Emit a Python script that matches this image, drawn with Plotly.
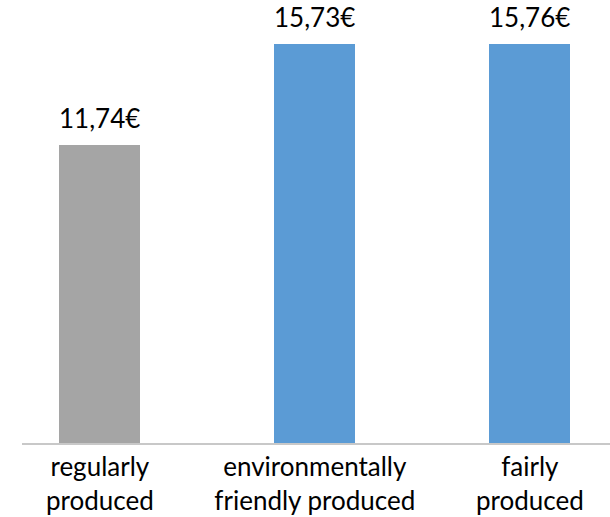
import plotly.graph_objects as go

categories = ["regularly<br>produced", "environmentally<br>friendly produced", "fairly<br>produced"]
prices = [11.74, 15.73, 15.76]
value_labels = ["11,74€", "15,73€", "15,76€"]
colors = ["#A5A5A5", "#5B9BD5", "#5B9BD5"]

FONT = "Lato"

fig = go.Figure(
    go.Bar(
        x=categories,
        y=prices,
        marker=dict(color=colors, line=dict(width=0)),
        width=0.377,
        hoverinfo="skip",
    )
)

for cat, val, lab in zip(categories, prices, value_labels):
    fig.add_annotation(
        x=cat, y=val, text=lab, showarrow=False,
        yanchor="bottom", yshift=9,
        font=dict(family=FONT, size=26, color="#000000"),
    )

fig.update_layout(
    width=610, height=517,
    margin=dict(l=22, r=0, t=0, b=74),
    paper_bgcolor="white", plot_bgcolor="white",
    showlegend=False,
    bargap=0,
    xaxis=dict(
        type="category",
        range=[-0.362, 2.373],
        showline=True, linecolor="#C8C8C8", linewidth=1.5,
        showgrid=False, ticks="",
        tickfont=dict(family=FONT, size=26, color="#000000"),
    ),
    yaxis=dict(
        range=[0, 17.48],
        visible=False, showgrid=False, zeroline=False,
    ),
)

fig.write_html("out.html")
